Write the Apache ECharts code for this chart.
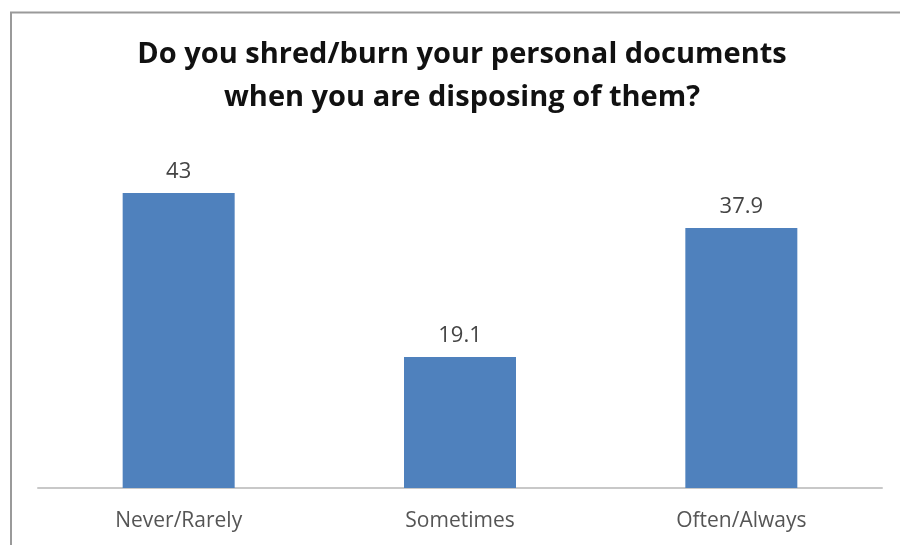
<!DOCTYPE html>
<html><head><meta charset="utf-8">
<script src="https://cdn.jsdelivr.net/npm/echarts@6/dist/echarts.min.js"></script>
<style>html,body{margin:0;padding:0;background:#fff;}#c{width:900px;height:545px;}</style>
</head><body><div id="c"></div>
<script>
var categories = ["Never/Rarely", "Sometimes", "Often/Always"];
var values = [43, 19.1, 37.9];
var titleText = "Do you shred/burn your personal documents\nwhen you are disposing of them?";

var chart = echarts.init(document.getElementById('c'), null, {renderer: 'canvas'});
chart.setOption({
  backgroundColor: '#ffffff',
  animation: false,
  title: {
    text: titleText,
    left: 457, top: 28, textAlign: 'center',
    textStyle: {fontFamily: 'Open Sans', fontWeight: 'bold', fontSize: 29, color: '#111', lineHeight: 43}
  },
  graphic: [{
    type: 'polyline', silent: true,
    shape: {points: [[11, 545], [11, 12.5], [900, 12.5]]},
    style: {stroke: '#9a9a9a', lineWidth: 2, fill: null}
  }],
  grid: {left: 38, right: 18, top: 145, bottom: 57, containLabel: false},
  xAxis: {
    type: 'category', data: categories,
    axisLine: {lineStyle: {color: '#c8c8c8', width: 2}},
    axisTick: {show: false},
    axisLabel: {fontFamily: 'Open Sans', fontSize: 21, color: '#555', margin: 23}
  },
  yAxis: {
    type: 'value', min: 0, max: 50,
    show: false, splitLine: {show: false}
  },
  series: [{
    type: 'bar', data: values, barWidth: 112,
    itemStyle: {color: '#4f81bd'},
    label: {show: true, position: 'top', distance: 10, fontFamily: 'Open Sans', fontSize: 22, color: '#444'}
  }]
});
</script></body></html>
